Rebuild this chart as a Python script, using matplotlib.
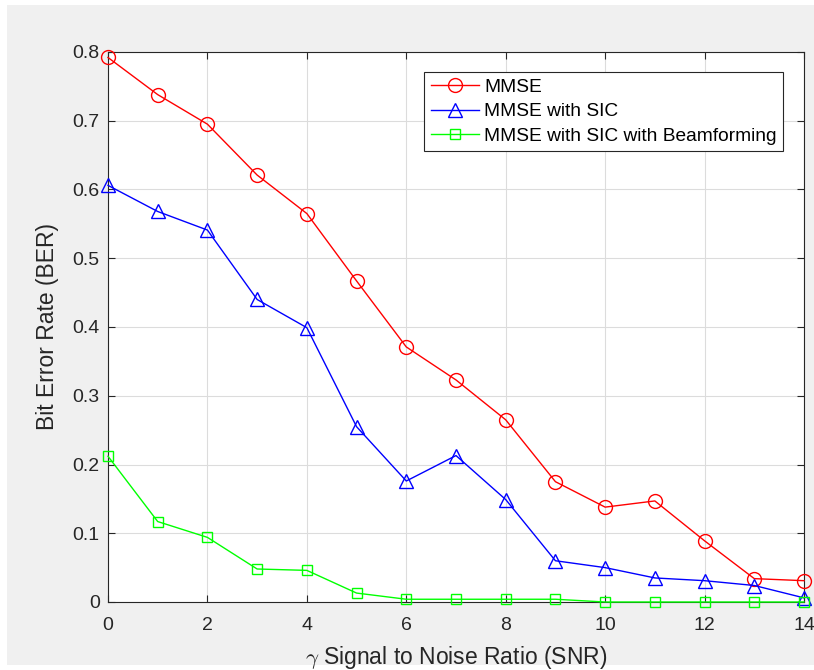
import matplotlib
matplotlib.use('Agg')
import matplotlib.pyplot as plt
from matplotlib.patches import Rectangle

# Dados
snr = [0, 1, 2, 3, 4, 5, 6, 7, 8, 9, 10, 11, 12, 13, 14]
ber_mmse = [0.792, 0.738, 0.695, 0.621, 0.565, 0.467, 0.371, 0.323, 0.265, 0.175, 0.138, 0.147, 0.089, 0.034, 0.031]
ber_sic = [0.606, 0.568, 0.541, 0.440, 0.399, 0.255, 0.176, 0.213, 0.149, 0.060, 0.050, 0.035, 0.031, 0.024, 0.006]
ber_bf = [0.212, 0.117, 0.094, 0.048, 0.046, 0.013, 0.004, 0.004, 0.004, 0.004, 0.0, 0.0, 0.0, 0.0, 0.0]

xticks = [0, 2, 4, 6, 8, 10, 12, 14]
yticks = [0, 0.1, 0.2, 0.3, 0.4, 0.5, 0.6, 0.7, 0.8]
ytick_labels = ['0', '0.1', '0.2', '0.3', '0.4', '0.5', '0.6', '0.7', '0.8']

plt.rcParams['font.family'] = ['Liberation Sans', 'DejaVu Sans']
plt.rcParams['mathtext.fontset'] = 'cm'

fig = plt.figure(figsize=(8.14, 6.70), dpi=100, facecolor='white')
# fundo cinza estilo MATLAB
fig.patches.append(Rectangle((7 / 814, 5 / 670), 1, 660 / 670, transform=fig.transFigure,
                             facecolor='#f0f0f0', edgecolor='none', zorder=-10))

ax = fig.add_axes([108 / 814, 68 / 670, 696 / 814, 550 / 670])
ax.set_facecolor('white')

ax.plot(snr, ber_mmse, color='red', marker='o', markersize=10, markerfacecolor='none',
        linewidth=1, label='MMSE', clip_on=False, zorder=3)
ax.plot(snr, ber_sic, color='blue', marker='^', markersize=10, markerfacecolor='none',
        linewidth=1, label='MMSE with SIC', clip_on=False, zorder=3)
ax.plot(snr, ber_bf, color='#00ff00', marker='s', markersize=7, markerfacecolor='none',
        linewidth=1, label='MMSE with SIC with Beamforming', clip_on=False, zorder=3)

ax.set_xlim(0, 14)
ax.set_ylim(0, 0.8)
ax.set_xticks(xticks)
ax.set_yticks(yticks)
ax.set_yticklabels(ytick_labels)
ax.grid(True, color='#dcdcdc', linewidth=0.8)
ax.set_axisbelow(True)
ax.tick_params(direction='in', top=True, right=True, labelsize=14, colors='#262626', length=5)
ax.tick_params(axis='x', pad=11)
ax.tick_params(axis='y', pad=6)
for s in ax.spines.values():
    s.set_color('#262626')
    s.set_linewidth(0.8)

ax.set_xlabel(r'$\gamma$ Signal to Noise Ratio (SNR)', fontsize=16.5, color='#262626', labelpad=7)
ax.set_ylabel('Bit Error Rate (BER)', fontsize=16.5, color='#262626', labelpad=10)

leg = ax.legend(loc='upper right', bbox_to_anchor=(0.97, 0.964), fontsize=13.8,
                fancybox=False, edgecolor='#262626', framealpha=1, borderaxespad=0,
                handlelength=2.5, labelspacing=0.36, handletextpad=0.25, borderpad=0.35)
leg.get_frame().set_linewidth(0.8)

fig.savefig('out.png', dpi=100, facecolor=fig.get_facecolor())
